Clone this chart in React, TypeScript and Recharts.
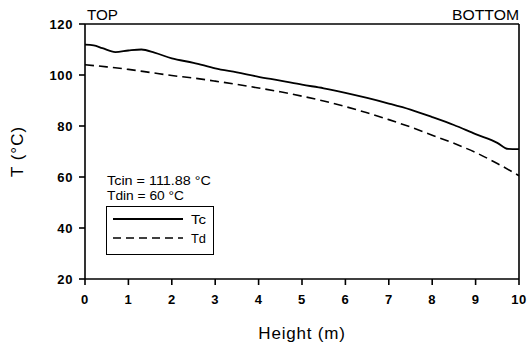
import React from "react";
import {
  LineChart,
  Line,
  XAxis,
  YAxis,
  ReferenceLine,
  Customized,
} from "recharts";

// Height along the column (m)
const heightTc = [0, 0.2, 0.4, 0.7, 1.0, 1.3, 1.6, 2.0, 2.5, 3.0, 3.5, 4.0, 4.5, 5.0, 5.5, 6.0, 6.5, 7.0, 7.5, 8.0, 8.5, 9.0, 9.5, 9.75, 10.0];
// Condensing-side temperature Tc (°C)
const tcValues = [111.9, 111.6, 110.5, 109.0, 109.6, 110.0, 108.8, 106.5, 104.8, 102.6, 101.0, 99.3, 97.8, 96.2, 94.8, 93.0, 91.0, 88.8, 86.4, 83.5, 80.4, 76.8, 73.4, 71.0, 70.9];

const heightTd = [0, 0.5, 1.0, 1.5, 2.0, 2.5, 3.0, 3.5, 4.0, 4.5, 5.0, 5.5, 6.0, 6.5, 7.0, 7.5, 8.0, 8.5, 9.0, 9.5, 10.0];
// Distillate-side temperature Td (°C)
const tdValues = [104.0, 103.2, 102.2, 101.0, 99.8, 98.8, 97.6, 96.3, 94.9, 93.4, 91.7, 89.8, 87.6, 85.2, 82.5, 79.6, 76.4, 73.2, 69.6, 65.3, 60.5];

const xTicks = [0, 1, 2, 3, 4, 5, 6, 7, 8, 9, 10];
const yTicks = [20, 40, 60, 80, 100, 120];

const seriesNames = ["Tc", "Td"];
const inletNotes = ["Tcin = 111.88 \u00B0C", "Tdin = 60 \u00B0C"];

const tcData = heightTc.map((h, i) => ({ h, tc: tcValues[i] }));
const tdData = heightTd.map((h, i) => ({ h, td: tdValues[i] }));

const FONT = "'Liberation Sans', Arial, sans-serif";

// Edge labels, inlet conditions and the boxed legend
const Annotations = () => (
  <g fontFamily={FONT} fill="#000">
    <text x={87} y={20} fontSize={14} textLength={31} lengthAdjust="spacingAndGlyphs">TOP</text>
    <text x={452} y={20} fontSize={14} textLength={67} lengthAdjust="spacingAndGlyphs">BOTTOM</text>
    <text x={107} y={185} fontSize={12.5} textLength={104} lengthAdjust="spacingAndGlyphs">{inletNotes[0]}</text>
    <text x={107} y={200} fontSize={12.5} textLength={77} lengthAdjust="spacingAndGlyphs">{inletNotes[1]}</text>
    <rect x={106.5} y={206.5} width={107} height={48} fill="#fff" stroke="#000" strokeWidth={1} />
    <line x1={113} x2={183} y1={219} y2={219} stroke="#000" strokeWidth={1.8} />
    <line x1={113} x2={183} y1={238} y2={238} stroke="#000" strokeWidth={1.6} strokeDasharray="8 5" />
    <text x={191} y={223.5} fontSize={12.5} textLength={15} lengthAdjust="spacingAndGlyphs">{seriesNames[0]}</text>
    <text x={191} y={242.5} fontSize={12.5} textLength={15} lengthAdjust="spacingAndGlyphs">{seriesNames[1]}</text>
  </g>
);

const tickStyle = {
  fill: "#000",
  fontSize: 13,
  fontWeight: "bold",
  fontFamily: FONT,
  letterSpacing: 0.6,
};

export default function App() {
  return (
    <div style={{ position: "absolute", left: 0, top: 0, background: "#fff" }}>
      <LineChart
        width={527}
        height={349}
        margin={{ top: 24, right: 8, left: 25, bottom: 30 }}
      >
        <XAxis
          dataKey="h"
          type="number"
          domain={[0, 10]}
          ticks={xTicks}
          allowDuplicatedCategory={false}
          height={40}
          stroke="#000"
          strokeWidth={1.6}
          tickSize={6}
          tickMargin={10}
          tick={tickStyle}
          label={{
            value: "Height (m)",
            position: "bottom",
            offset: 8,
            fill: "#000",
            fontSize: 17,
            fontFamily: FONT,
            letterSpacing: 0.8,
          }}
        />
        <YAxis
          type="number"
          domain={[20, 120]}
          ticks={yTicks}
          width={60}
          stroke="#000"
          strokeWidth={1.6}
          tickSize={6}
          tickMargin={6}
          tick={tickStyle}
          label={{
            value: "T (\u00B0C)",
            angle: -90,
            position: "insideLeft",
            offset: -8,
            fill: "#000",
            fontSize: 17,
            fontFamily: FONT,
            letterSpacing: 1,
            style: { textAnchor: "middle" },
          }}
        />
        <ReferenceLine y={120} stroke="#000" strokeWidth={1.6} />
        <ReferenceLine x={10} stroke="#000" strokeWidth={1.6} />
        <Line
          data={tcData}
          dataKey="tc"
          name={seriesNames[0]}
          type="monotone"
          stroke="#000"
          strokeWidth={1.8}
          dot={false}
          isAnimationActive={false}
        />
        <Line
          data={tdData}
          dataKey="td"
          name={seriesNames[1]}
          type="monotone"
          stroke="#000"
          strokeWidth={1.6}
          strokeDasharray="9 5"
          dot={false}
          isAnimationActive={false}
        />
        <Customized component={Annotations} />
      </LineChart>
    </div>
  );
}
